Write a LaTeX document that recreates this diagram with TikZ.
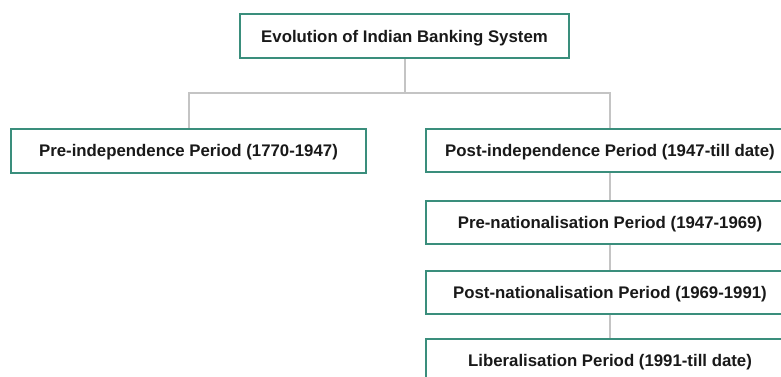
\documentclass[tikz,border=0pt]{standalone}
\usepackage{fontspec}
\setmainfont{Liberation Sans}
\definecolor{boxline}{RGB}{58,142,124}
\definecolor{conn}{RGB}{196,196,196}
\begin{document}
\begin{tikzpicture}[x=1pt,y=1pt,
  box/.style={draw=boxline, line width=2pt, fill=white, minimum height=44pt, inner sep=0pt, text height=15.5pt, text depth=3pt, font=\bfseries\fontsize{16.8}{18}\selectfont, text=black!90},
  link/.style={draw=conn, line width=2pt}]
\clip (0,0) rectangle (781,-376);
\fill[white] (0,0) rectangle (781,-376);
\node[box, minimum width=329pt] (top) at (404.5,-36) {Evolution of Indian Banking System};
\node[box, minimum width=355pt] (pre) at (188.5,-150.5) {Pre-independence Period (1770-1947)};
\node[box, minimum width=368pt, minimum height=43pt] (post) at (610,-150.5) {Post-independence Period (1947-till date)};
\node[box, minimum width=368pt, minimum height=43pt] (prenat) at (610,-222.5) {Pre-nationalisation Period (1947-1969)};
\node[box, minimum width=368pt, minimum height=43pt] (postnat) at (610,-292) {Post-nationalisation Period (1969-1991)};
\node[box, minimum width=368pt, minimum height=43pt] (lib) at (610,-360) {Liberalisation Period (1991-till date)};
\coordinate (mid) at (404.5,-93);
\draw[link] (top.south) -- (mid);
\draw[link] (mid) -| (pre.north);
\draw[link] (mid) -| (post.north);
\draw[link] (post.south) -- (prenat.north);
\draw[link] (prenat.south) -- (postnat.north);
\draw[link] (postnat.south) -- (lib.north);
\end{tikzpicture}
\end{document}
